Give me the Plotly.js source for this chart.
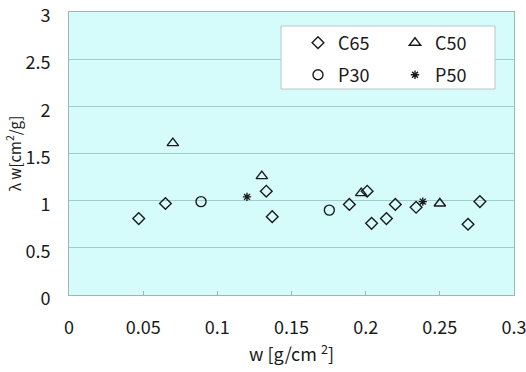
<!DOCTYPE html>
<html>
<head>
<meta charset="utf-8">
<script src="https://cdn.plot.ly/plotly-3.0.1.min.js"></script>
<style>html,body{margin:0;padding:0;background:#fff;}</style>
</head>
<body>
<div id="chart" style="width:526px;height:372px;"></div>
<script>
// Data
const c65_x = [0.047, 0.065, 0.133, 0.137, 0.189, 0.201, 0.204, 0.214, 0.220, 0.234, 0.269, 0.277];
const c65_y = [0.81, 0.97, 1.10, 0.83, 0.96, 1.10, 0.76, 0.81, 0.96, 0.93, 0.75, 0.99];
const c50_x = [0.070, 0.130, 0.197, 0.250];
const c50_y = [1.61, 1.26, 1.08, 0.97];
const p30_x = [0.089, 0.1755];
const p30_y = [0.99, 0.90];
const p50_x = [0.120, 0.2385];
const p50_y = [1.04, 0.99];

const FONT = '"Noto Sans CJK JP", "Liberation Sans", sans-serif';
const INK = '#1a1a1a';

function tr(name, x, y, symbol, size, legend) {
  return {
    type: 'scatter', mode: 'markers', name: name, x: x, y: y, legend: legend,
    marker: {symbol: symbol, size: size, color: INK, line: {color: INK, width: 1.4}},
    cliponaxis: false
  };
}

const data = [
  tr('C65', c65_x, c65_y, 'diamond-open', 9, 'legend'),
  tr('C50', c50_x, c50_y, 'triangle-up-open', 10, 'legend'),
  tr('P30', p30_x, p30_y, 'circle-open', 10, 'legend2'),
  tr('P50', p50_x, p50_y, 'asterisk-open', 7, 'legend2')
];

const legendCommon = {
  orientation: 'h', xref: 'paper', yref: 'paper', xanchor: 'left', yanchor: 'middle',
  bgcolor: 'rgba(0,0,0,0)', borderwidth: 0,
  font: {family: FONT, size: 18, color: INK},
  entrywidth: 52, entrywidthmode: 'pixels', itemwidth: 30
};

const layout = {
  width: 526, height: 372,
  margin: {l: 69, r: 12, t: 12, b: 77, autoexpand: false},
  paper_bgcolor: '#ffffff',
  plot_bgcolor: '#d6fbfb',
  font: {family: FONT, size: 18, color: INK},
  showlegend: true,
  legend: Object.assign({}, legendCommon, {x: (298 - 69) / 445, y: (295 - 43) / 283}),
  legend2: Object.assign({}, legendCommon, {x: (298 - 69) / 445, y: (295 - 75) / 283}),
  xaxis: {
    range: [0, 0.3], dtick: 0.05, tick0: 0,
    showgrid: false, zeroline: false,
    showline: true, linecolor: '#9ab8b8', linewidth: 1, mirror: true,
    ticks: 'inside', ticklen: 4, tickcolor: '#9ab8b8',
    ticklabelstandoff: 16, ticklabeloverflow: 'allow',
    tickfont: {family: FONT, size: 18, color: INK},
    title: {text: 'w [g/cm <sup>2</sup>]', font: {family: FONT, size: 18, color: INK}, standoff: 8}
  },
  yaxis: {
    range: [0, 3], dtick: 0.5, tick0: 0,
    showgrid: true, gridcolor: '#9fcccc', gridwidth: 1, zeroline: false,
    showline: true, linecolor: '#9ab8b8', linewidth: 1, mirror: true,
    ticks: '', ticklabelstandoff: 14, ticklabelshift: 4, ticklabeloverflow: 'allow',
    tickfont: {family: FONT, size: 18, color: INK},
    title: {text: 'λ w[cm<sup>2</sup>/g]', font: {family: FONT, size: 15, color: INK}, standoff: 0}
  },
  shapes: [{
    type: 'rect', xref: 'paper', yref: 'paper',
    x0: (281 - 69) / 445, x1: (495 - 69) / 445,
    y0: (295 - 89) / 283, y1: (295 - 26) / 283,
    fillcolor: '#ffffff', line: {color: '#b8c8c8', width: 1}, layer: 'above'
  }]
};

Plotly.newPlot('chart', data, layout, {displayModeBar: false, staticPlot: true});
</script>
</body>
</html>
